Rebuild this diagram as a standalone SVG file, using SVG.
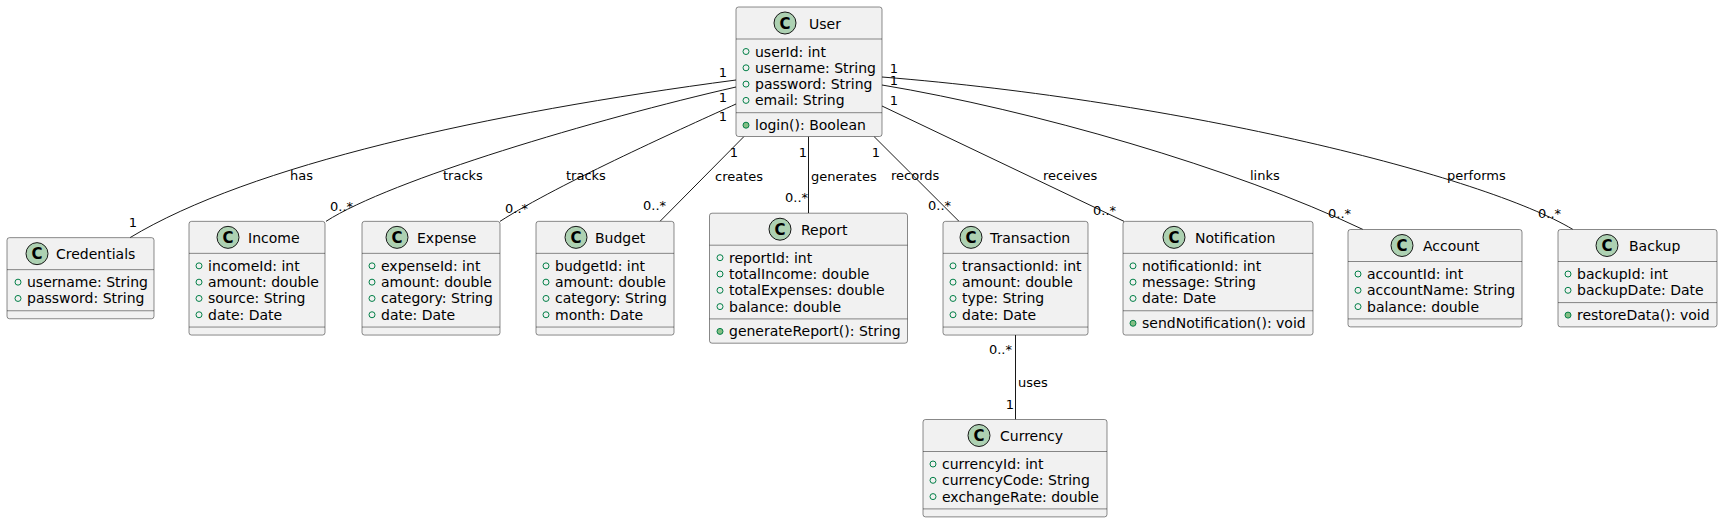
<svg xmlns="http://www.w3.org/2000/svg" width="1723" height="522" viewBox="0 0 1723 522">
<style>
.bg{fill:#FFFFFF}
.box{fill:#F1F1F1;stroke:#181818;stroke-width:0.5}
.sep{stroke:#181818;stroke-width:0.5}
.ci{fill:#ADD1B2;stroke:#181818;stroke-width:1}
.cl{font-family:"DejaVu Sans",sans-serif;font-size:15px;font-weight:bold;text-anchor:middle;fill:#000}
.t{font-family:"DejaVu Sans",sans-serif;font-size:14px;fill:#000}
.f{fill:none;stroke:#038048;stroke-width:1}
.m{fill:#84BE84;stroke:#038048;stroke-width:1}
.edges path{fill:none;stroke:#181818;stroke-width:1}
.l{font-family:"DejaVu Sans",sans-serif;font-size:13px;fill:#000}
.mid{text-anchor:middle}
.end{text-anchor:end}
</style>
<rect class="bg" x="0" y="0" width="1723" height="522"/>

<g id="connectors" class="edges">
<path d="M736,80 C486,113 250,165 130,237.65"/>
<path d="M736,87 C596,119 390,180 326,221.35"/>
<path d="M736,104 C690,125 560,183 500,221.35"/>
<path d="M744,136.5 L660,221.35"/>
<path d="M808.5,136.5 L808.5,213.2"/>
<path d="M874,136.5 L959,221.35"/>
<path d="M882,106 L1124,221.35"/>
<path d="M882,85 C1032,110 1233,167.5 1363,229.5"/>
<path d="M882,77 C1182,101 1483,175.5 1573,229.5"/>
<path d="M1015.5,335.05 L1015.5,419.5"/>
<text class="l" x="290" y="179.5">has</text>
<text class="l" x="443" y="180">tracks</text>
<text class="l" x="566" y="180">tracks</text>
<text class="l" x="715" y="180.5">creates</text>
<text class="l" x="811" y="180.5">generates</text>
<text class="l" x="891" y="180">records</text>
<text class="l" x="1043" y="179.5">receives</text>
<text class="l" x="1250" y="179.5">links</text>
<text class="l" x="1447" y="179.5">performs</text>
<text class="l" x="1018" y="386.5">uses</text>
<text class="l mid" x="723" y="76.5">1</text>
<text class="l mid" x="723" y="101.5">1</text>
<text class="l mid" x="723" y="120.5">1</text>
<text class="l mid" x="894" y="72.5">1</text>
<text class="l mid" x="894" y="84.5">1</text>
<text class="l mid" x="894" y="104.5">1</text>
<text class="l mid" x="734" y="156.5">1</text>
<text class="l mid" x="803" y="156.5">1</text>
<text class="l mid" x="876" y="156.5">1</text>
<text class="l mid" x="133" y="226.5">1</text>
<text class="l" x="330" y="210.5">0..*</text>
<text class="l" x="505" y="212.5">0..*</text>
<text class="l" x="643" y="209.5">0..*</text>
<text class="l" x="785" y="201.5">0..*</text>
<text class="l" x="928" y="209.5">0..*</text>
<text class="l" x="1093" y="214.5">0..*</text>
<text class="l" x="1328" y="217.5">0..*</text>
<text class="l" x="1538" y="217.5">0..*</text>
<text class="l end" x="1012" y="354">0..*</text>
<text class="l mid" x="1010" y="408.5">1</text>
</g>

<g id="User">
<rect class="box" x="736" y="7" width="146" height="129.5" rx="2.5"/>
<circle class="ci" cx="785" cy="23" r="11"/><text class="cl" x="785" y="28.5">C</text>
<text class="t" x="809" y="28.5">User</text>
<line class="sep" x1="736" y1="39" x2="882" y2="39"/>
<circle class="f" cx="746" cy="51.5" r="3"/><text class="t" x="755" y="56.5">userId: int</text>
<circle class="f" cx="746" cy="67.8" r="3"/><text class="t" x="755" y="72.8">username: String</text>
<circle class="f" cx="746" cy="84.1" r="3"/><text class="t" x="755" y="89.1">password: String</text>
<circle class="f" cx="746" cy="100.4" r="3"/><text class="t" x="755" y="105.4">email: String</text>
<line class="sep" x1="736" y1="112.7" x2="882" y2="112.7"/>
<circle class="m" cx="746" cy="125.2" r="3"/><text class="t" x="755" y="130.2">login(): Boolean</text>
</g>

<g id="Credentials">
<rect class="box" x="7" y="237.65" width="147" height="81.1" rx="2.5"/>
<circle class="ci" cx="37" cy="253.65" r="11"/><text class="cl" x="37" y="259.15">C</text>
<text class="t" x="56" y="259.15">Credentials</text>
<line class="sep" x1="7" y1="269.65" x2="154" y2="269.65"/>
<circle class="f" cx="18" cy="282.15" r="3"/><text class="t" x="27" y="287.15">username: String</text>
<circle class="f" cx="18" cy="298.45" r="3"/><text class="t" x="27" y="303.45">password: String</text>
<line class="sep" x1="7" y1="310.75" x2="154" y2="310.75"/>
</g>

<g id="Income">
<rect class="box" x="189" y="221.35" width="136" height="113.7" rx="2.5"/>
<circle class="ci" cx="228" cy="237.35" r="11"/><text class="cl" x="228" y="242.85">C</text>
<text class="t" x="248" y="242.85">Income</text>
<line class="sep" x1="189" y1="253.35" x2="325" y2="253.35"/>
<circle class="f" cx="199" cy="265.85" r="3"/><text class="t" x="208" y="270.85">incomeId: int</text>
<circle class="f" cx="199" cy="282.15" r="3"/><text class="t" x="208" y="287.15">amount: double</text>
<circle class="f" cx="199" cy="298.45" r="3"/><text class="t" x="208" y="303.45">source: String</text>
<circle class="f" cx="199" cy="314.75" r="3"/><text class="t" x="208" y="319.75">date: Date</text>
<line class="sep" x1="189" y1="327.05" x2="325" y2="327.05"/>
</g>

<g id="Expense">
<rect class="box" x="362" y="221.35" width="138" height="113.7" rx="2.5"/>
<circle class="ci" cx="397" cy="237.35" r="11"/><text class="cl" x="397" y="242.85">C</text>
<text class="t" x="417" y="242.85">Expense</text>
<line class="sep" x1="362" y1="253.35" x2="500" y2="253.35"/>
<circle class="f" cx="372" cy="265.85" r="3"/><text class="t" x="381" y="270.85">expenseId: int</text>
<circle class="f" cx="372" cy="282.15" r="3"/><text class="t" x="381" y="287.15">amount: double</text>
<circle class="f" cx="372" cy="298.45" r="3"/><text class="t" x="381" y="303.45">category: String</text>
<circle class="f" cx="372" cy="314.75" r="3"/><text class="t" x="381" y="319.75">date: Date</text>
<line class="sep" x1="362" y1="327.05" x2="500" y2="327.05"/>
</g>

<g id="Budget">
<rect class="box" x="536" y="221.35" width="138" height="113.7" rx="2.5"/>
<circle class="ci" cx="576" cy="237.35" r="11"/><text class="cl" x="576" y="242.85">C</text>
<text class="t" x="595" y="242.85">Budget</text>
<line class="sep" x1="536" y1="253.35" x2="674" y2="253.35"/>
<circle class="f" cx="546" cy="265.85" r="3"/><text class="t" x="555" y="270.85">budgetId: int</text>
<circle class="f" cx="546" cy="282.15" r="3"/><text class="t" x="555" y="287.15">amount: double</text>
<circle class="f" cx="546" cy="298.45" r="3"/><text class="t" x="555" y="303.45">category: String</text>
<circle class="f" cx="546" cy="314.75" r="3"/><text class="t" x="555" y="319.75">month: Date</text>
<line class="sep" x1="536" y1="327.05" x2="674" y2="327.05"/>
</g>

<g id="Report">
<rect class="box" x="709.5" y="213.2" width="198" height="130" rx="2.5"/>
<circle class="ci" cx="780" cy="229.2" r="11"/><text class="cl" x="780" y="234.7">C</text>
<text class="t" x="801" y="234.7">Report</text>
<line class="sep" x1="709.5" y1="245.2" x2="907.5" y2="245.2"/>
<circle class="f" cx="720" cy="257.7" r="3"/><text class="t" x="729" y="262.7">reportId: int</text>
<circle class="f" cx="720" cy="274" r="3"/><text class="t" x="729" y="279">totalIncome: double</text>
<circle class="f" cx="720" cy="290.3" r="3"/><text class="t" x="729" y="295.3">totalExpenses: double</text>
<circle class="f" cx="720" cy="306.6" r="3"/><text class="t" x="729" y="311.6">balance: double</text>
<line class="sep" x1="709.5" y1="318.9" x2="907.5" y2="318.9"/>
<circle class="m" cx="720" cy="331.4" r="3"/><text class="t" x="729" y="336.4">generateReport(): String</text>
</g>

<g id="Transaction">
<rect class="box" x="943" y="221.35" width="145" height="113.7" rx="2.5"/>
<circle class="ci" cx="971" cy="237.35" r="11"/><text class="cl" x="971" y="242.85">C</text>
<text class="t" x="990" y="242.85">Transaction</text>
<line class="sep" x1="943" y1="253.35" x2="1088" y2="253.35"/>
<circle class="f" cx="953" cy="265.85" r="3"/><text class="t" x="962" y="270.85">transactionId: int</text>
<circle class="f" cx="953" cy="282.15" r="3"/><text class="t" x="962" y="287.15">amount: double</text>
<circle class="f" cx="953" cy="298.45" r="3"/><text class="t" x="962" y="303.45">type: String</text>
<circle class="f" cx="953" cy="314.75" r="3"/><text class="t" x="962" y="319.75">date: Date</text>
<line class="sep" x1="943" y1="327.05" x2="1088" y2="327.05"/>
</g>

<g id="Notification">
<rect class="box" x="1123" y="221.35" width="190" height="113.7" rx="2.5"/>
<circle class="ci" cx="1174" cy="237.35" r="11"/><text class="cl" x="1174" y="242.85">C</text>
<text class="t" x="1195" y="242.85">Notification</text>
<line class="sep" x1="1123" y1="253.35" x2="1313" y2="253.35"/>
<circle class="f" cx="1133" cy="265.85" r="3"/><text class="t" x="1142" y="270.85">notificationId: int</text>
<circle class="f" cx="1133" cy="282.15" r="3"/><text class="t" x="1142" y="287.15">message: String</text>
<circle class="f" cx="1133" cy="298.45" r="3"/><text class="t" x="1142" y="303.45">date: Date</text>
<line class="sep" x1="1123" y1="310.75" x2="1313" y2="310.75"/>
<circle class="m" cx="1133" cy="323.25" r="3"/><text class="t" x="1142" y="328.25">sendNotification(): void</text>
</g>

<g id="Account">
<rect class="box" x="1348" y="229.5" width="174" height="97.4" rx="2.5"/>
<circle class="ci" cx="1402" cy="245.5" r="11"/><text class="cl" x="1402" y="251">C</text>
<text class="t" x="1423" y="251">Account</text>
<line class="sep" x1="1348" y1="261.5" x2="1522" y2="261.5"/>
<circle class="f" cx="1358" cy="274" r="3"/><text class="t" x="1367" y="279">accountId: int</text>
<circle class="f" cx="1358" cy="290.3" r="3"/><text class="t" x="1367" y="295.3">accountName: String</text>
<circle class="f" cx="1358" cy="306.6" r="3"/><text class="t" x="1367" y="311.6">balance: double</text>
<line class="sep" x1="1348" y1="318.9" x2="1522" y2="318.9"/>
</g>

<g id="Backup">
<rect class="box" x="1558" y="229.5" width="159" height="97.4" rx="2.5"/>
<circle class="ci" cx="1607" cy="245.5" r="11"/><text class="cl" x="1607" y="251">C</text>
<text class="t" x="1629" y="251">Backup</text>
<line class="sep" x1="1558" y1="261.5" x2="1717" y2="261.5"/>
<circle class="f" cx="1568" cy="274" r="3"/><text class="t" x="1577" y="279">backupId: int</text>
<circle class="f" cx="1568" cy="290.3" r="3"/><text class="t" x="1577" y="295.3">backupDate: Date</text>
<line class="sep" x1="1558" y1="302.6" x2="1717" y2="302.6"/>
<circle class="m" cx="1568" cy="315.1" r="3"/><text class="t" x="1577" y="320.1">restoreData(): void</text>
</g>

<g id="Currency">
<rect class="box" x="923" y="419.5" width="184" height="97.4" rx="2.5"/>
<circle class="ci" cx="979" cy="435.5" r="11"/><text class="cl" x="979" y="441">C</text>
<text class="t" x="1000" y="441">Currency</text>
<line class="sep" x1="923" y1="451.5" x2="1107" y2="451.5"/>
<circle class="f" cx="933" cy="464" r="3"/><text class="t" x="942" y="469">currencyId: int</text>
<circle class="f" cx="933" cy="480.3" r="3"/><text class="t" x="942" y="485.3">currencyCode: String</text>
<circle class="f" cx="933" cy="496.6" r="3"/><text class="t" x="942" y="501.6">exchangeRate: double</text>
<line class="sep" x1="923" y1="508.9" x2="1107" y2="508.9"/>
</g>
</svg>
